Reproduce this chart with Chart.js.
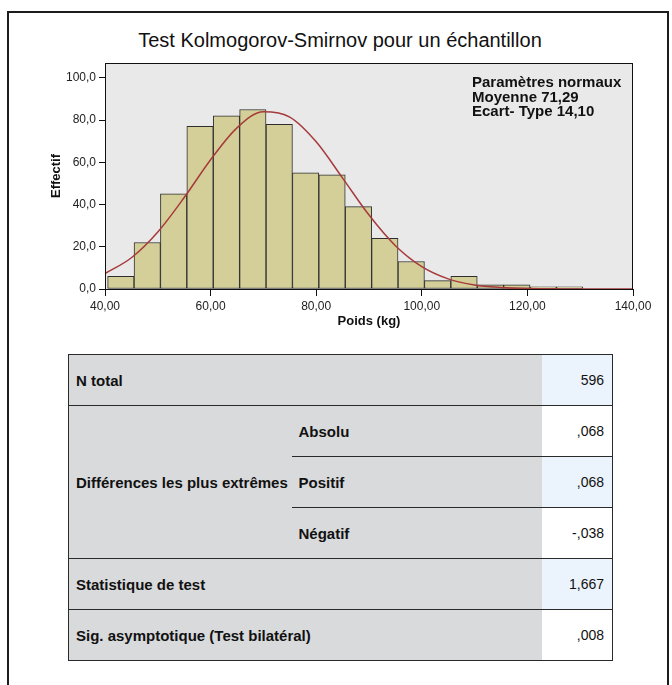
<!DOCTYPE html>
<html>
<head>
<meta charset="utf-8">
<title>Test Kolmogorov-Smirnov pour un échantillon</title>
<script src="https://cdn.jsdelivr.net/npm/chart.js@4.4.1/dist/chart.umd.min.js"></script>
<style>
  html, body { margin: 0; padding: 0; background: #fff; width: 672px; height: 685px; overflow: hidden;
    font-family: "Liberation Sans", Arial, sans-serif; color: #111; }
  #frame { position: absolute; left: 7px; top: 11px; width: 662px; height: 700px;
    border: 2px solid #1c1c1c; box-sizing: border-box; }
  #title { position: absolute; left: 0; top: 28px; width: 680px; text-align: center;
    font-size: 20px; line-height: 24px; color: #111; }
  #chartBox { position: absolute; left: 0; top: 0; width: 672px; height: 340px; }
  #params { position: absolute; left: 472px; top: 75px; font-weight: bold; font-size: 15px;
    line-height: 14.7px; color: #111; white-space: nowrap; }
  #stats { position: absolute; left: 68px; top: 354px; border-collapse: collapse; table-layout: fixed;
    width: 544px; border: 1px solid #2a2a2a; font-size: 15px; }
  #stats td { height: 50px; padding: 0 7px; border-top: 1px solid #2a2a2a; background: #d9dadc;
    white-space: nowrap; }
  #stats td.lab { font-weight: bold; }
  #stats td.val { text-align: right; padding-right: 8px; font-size: 14px; }
  #stats td.blue { background: #ebf3fc; }
  #stats td.white { background: #ffffff; }
  #stats td.noline { border-top: none; }
</style>
</head>
<body>
<div id="frame"></div>
<div id="title">Test Kolmogorov-Smirnov pour un échantillon</div>
<div id="chartBox"><canvas id="hist" width="672" height="340"></canvas></div>
<div id="params"></div>
<table id="stats"></table>

<script>
// Histogram of weights: lower edge of each 5 kg class and its count
const BIN_WIDTH = 5;
const binStarts = [40.5, 45.5, 50.5, 55.5, 60.5, 65.5, 70.5, 75.5, 80.5, 85.5,
                   90.5, 95.5, 100.5, 105.5, 110.5, 115.5, 120.5, 125.5];
const counts    = [6, 22, 45, 77, 82, 85, 78, 55, 54, 39,
                   24, 13, 4, 6, 2, 2, 1, 1];

// Fitted normal curve, expected counts per class
const curveX = [40, 45, 50, 55, 60, 65, 70, 75, 80, 85, 90,
                95, 100, 105, 110, 115, 120, 125, 130, 135, 140];
const curveY = [7.3, 14.8, 27.0, 43.3, 61.2, 76.3, 83.9, 81.4, 69.7, 52.5, 35.0,
                20.5, 10.6, 4.8, 1.9, 0.7, 0.2, 0.1, 0, 0, 0];

// Normal parameters shown in the corner
const MEAN = 71.29;
const SD = 14.10;

// Axis ticks
const xTicks = [40, 60, 80, 100, 120, 140];
const yTicks = [0, 20, 40, 60, 80, 100];

// Test summary table
const rowLabels  = ["N total", "Absolu", "Positif", "Négatif", "Statistique de test", "Sig. asymptotique (Test bilatéral)"];
const groupLabel = "Différences les plus extrêmes";
const rowValues  = ["596", ",068", ",068", "-,038", "1,667", ",008"];

const fr = (v, d) => v.toFixed(d).replace('.', ',');

document.getElementById('params').innerHTML =
  'Paramètres normaux<br>Moyenne ' + fr(MEAN, 2) + '<br>Ecart- Type ' + fr(SD, 2);

// Build the table
(function buildTable() {
  const t = document.getElementById('stats');
  t.innerHTML =
    '<colgroup><col style="width:223px"><col style="width:250px"><col style="width:71px"></colgroup>';
  const tr = () => { const r = document.createElement('tr'); t.appendChild(r); return r; };
  const td = (r, text, cls, extra) => {
    const c = document.createElement('td'); c.textContent = text; c.className = cls;
    if (extra) for (const k in extra) c.setAttribute(k, extra[k]);
    r.appendChild(c); return c;
  };
  let r = tr();
  td(r, rowLabels[0], 'lab', { colspan: 2 });
  td(r, rowValues[0], 'val blue');
  r = tr();
  td(r, groupLabel, 'lab', { rowspan: 3 });
  td(r, rowLabels[1], 'lab');
  td(r, rowValues[1], 'val white');
  r = tr();
  td(r, rowLabels[2], 'lab');
  td(r, rowValues[2], 'val blue');
  r = tr();
  td(r, rowLabels[3], 'lab');
  td(r, rowValues[3], 'val white');
  r = tr();
  td(r, rowLabels[4], 'lab', { colspan: 2 });
  td(r, rowValues[4], 'val blue');
  r = tr();
  td(r, rowLabels[5], 'lab', { colspan: 2 });
  td(r, rowValues[5], 'val white');
})();

// Grey plot background and frame around the plot area
const plotFrame = {
  id: 'plotFrame',
  beforeDraw(chart) {
    const { ctx, chartArea: a } = chart;
    ctx.save();
    ctx.fillStyle = '#e9e9e9';
    ctx.fillRect(a.left, a.top, a.right - a.left, a.bottom - a.top);
    ctx.restore();
  },
  afterDraw(chart) {
    const { ctx, chartArea: a } = chart;
    ctx.save();
    ctx.strokeStyle = '#111';
    ctx.lineWidth = 1;
    ctx.strokeRect(Math.round(a.left) + 0.5, Math.round(a.top) + 0.5,
                   Math.round(a.right - a.left) - 1, Math.round(a.bottom - a.top));
    ctx.restore();
  }
};

const tickFont = { family: '"Liberation Sans", Arial, sans-serif', size: 12 };
const titleFont = { family: '"Liberation Sans", Arial, sans-serif', size: 13, weight: 'bold' };

new Chart(document.getElementById('hist'), {
  type: 'bar',
  data: {
    datasets: [
      {
        type: 'line',
        data: curveX.map((x, i) => ({ x: x, y: curveY[i] })),
        borderColor: '#a63a3b',
        borderWidth: 1.5,
        pointRadius: 0,
        cubicInterpolationMode: 'monotone',
        fill: false,
        order: 0
      },
      {
        type: 'bar',
        data: counts.map((c, i) => ({ x: binStarts[i] + BIN_WIDTH / 2, y: c })),
        backgroundColor: '#d4cf98',
        borderColor: '#2e2e2e',
        borderWidth: 1,
        borderSkipped: false,
        barPercentage: 1,
        categoryPercentage: 1,
        order: 1
      }
    ]
  },
  options: {
    responsive: false,
    animation: false,
    devicePixelRatio: 1,
    layout: { padding: { left: 40, right: 39, top: 63, bottom: 0 } },
    plugins: { legend: { display: false }, tooltip: { enabled: false }, title: { display: false } },
    scales: {
      x: {
        type: 'linear',
        min: 40, max: 140,
        offset: false,
        afterBuildTicks: s => { s.ticks = xTicks.map(v => ({ value: v })); },
        afterFit: s => { s.height = 51; s.paddingLeft = 0; s.paddingRight = 0; },
        ticks: { font: tickFont, color: '#222', padding: 3, maxRotation: 0, autoSkip: false,
                 callback: v => fr(v, 2) },
        grid: { display: true, drawOnChartArea: false, drawTicks: true, tickLength: 7,
                color: '#111', offset: false },
        border: { display: true, color: '#111', width: 1 },
        title: { display: true, text: 'Poids (kg)', font: titleFont, color: '#111',
                 padding: { top: 0, bottom: 11 } }
      },
      y: {
        min: 0, max: 107,
        afterBuildTicks: s => { s.ticks = yTicks.map(v => ({ value: v })); },
        afterFit: s => { s.width = 65; s.paddingTop = 0; s.paddingBottom = 0; },
        ticks: { font: tickFont, color: '#222', padding: 3, callback: v => fr(v, 1) },
        grid: { display: true, drawOnChartArea: false, drawTicks: true, tickLength: 6, color: '#111' },
        border: { display: true, color: '#111', width: 1 },
        title: { display: true, text: 'Effectif', font: titleFont, color: '#111',
                 padding: { top: 9, bottom: 0 } }
      }
    }
  },
  plugins: [plotFrame]
});
</script>
</body>
</html>
